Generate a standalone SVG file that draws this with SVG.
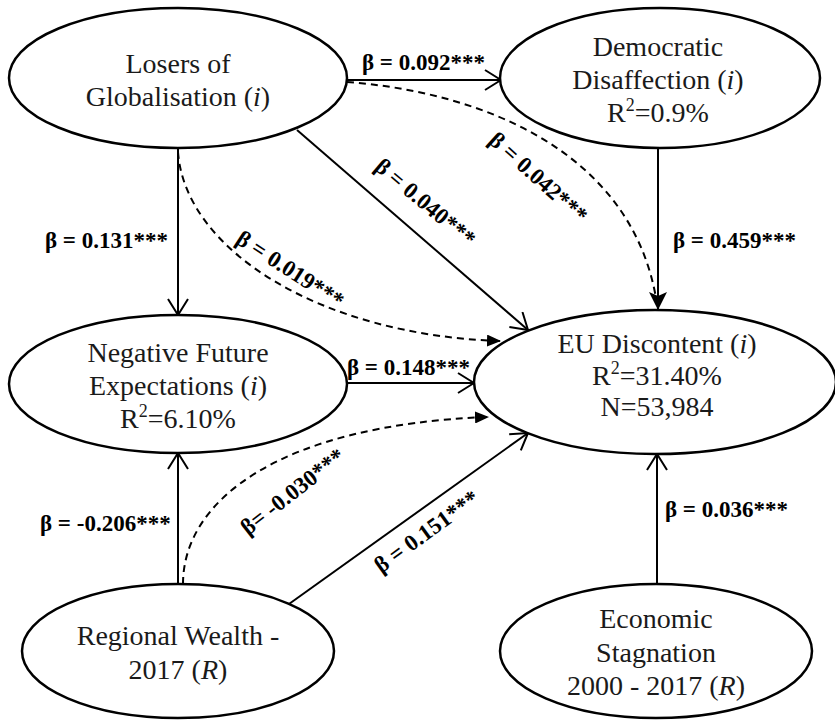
<svg xmlns="http://www.w3.org/2000/svg" width="835" height="720" viewBox="0 0 835 720">
<style>
.node ellipse{fill:#fff;stroke:#000;stroke-width:2.5}
.nt{font-family:"Liberation Serif","Times New Roman",serif;font-size:28px;fill:#1a1a1a;text-anchor:middle}
.lb{font-family:"Liberation Serif","Times New Roman",serif;font-size:23px;font-weight:bold;fill:#000}
.edge{fill:none;stroke:#000;stroke-width:2}
.dash{fill:none;stroke:#000;stroke-width:2;stroke-dasharray:7 5}
</style>
<defs>
<marker id="open" viewBox="0 0 18 22" refX="17" refY="11" markerWidth="18" markerHeight="22" markerUnits="userSpaceOnUse" orient="auto"><path d="M1,1 L17,11 L1,21" fill="none" stroke="#000" stroke-width="2"/></marker>
<marker id="fill" viewBox="0 0 18 18" refX="17" refY="9" markerWidth="18" markerHeight="18" markerUnits="userSpaceOnUse" orient="auto"><path d="M0,0 L18,9 L0,18 L4,9 Z" fill="#000"/></marker>
<marker id="small" viewBox="0 0 14 12" refX="13" refY="6" markerWidth="14" markerHeight="12" markerUnits="userSpaceOnUse" orient="auto"><path d="M0,0 L14,6 L0,12 Z" fill="#000"/></marker>
</defs>
<rect width="835" height="720" fill="#fff"/>
<g id="connectors">
<path class="edge" d="M347,80 L501,80" marker-end="url(#open)"/>
<path class="dash" d="M347,82 C480,92 630,150 656,298"/>
<path class="edge" d="M297,130 L528,330" marker-end="url(#open)"/>
<path class="edge" d="M178,148 L178,315" marker-end="url(#open)"/>
<path class="dash" d="M178,152 C185,250 320,335 500,341" marker-end="url(#small)"/>
<path class="edge" d="M658,148 L658,309" marker-end="url(#fill)"/>
<path class="edge" d="M347,383 L474,383" marker-end="url(#open)"/>
<path class="edge" d="M178,584 L178,453" marker-end="url(#open)"/>
<path class="dash" d="M183,584 C183,500 280,425 488,417" marker-end="url(#small)"/>
<path class="edge" d="M289,604 L528,433" marker-end="url(#open)"/>
<path class="edge" d="M657,584 L657,454" marker-end="url(#open)"/>
<text class="lb" x="362" y="70">β = 0.092***</text>
<text class="lb" transform="translate(538,178) rotate(42)" text-anchor="middle" dy="7">β = 0.042***</text>
<text class="lb" transform="translate(425,203) rotate(40)" text-anchor="middle" dy="7">β = 0.040***</text>
<text class="lb" x="45" y="248">β = 0.131***</text>
<text class="lb" transform="translate(290,270) rotate(33)" text-anchor="middle" dy="7">β = 0.019***</text>
<text class="lb" x="673" y="248">β = 0.459***</text>
<text class="lb" x="347" y="375">β = 0.148***</text>
<text class="lb" x="40" y="531">β = -0.206***</text>
<text class="lb" transform="translate(293,492) rotate(-38)" text-anchor="middle" dy="7">β= -0.030***</text>
<text class="lb" transform="translate(427,532) rotate(-36)" text-anchor="middle" dy="7">β = 0.151***</text>
<text class="lb" x="665" y="517">β = 0.036***</text>
</g>
<g id="losers" class="node">
<ellipse cx="178" cy="78" rx="169" ry="70"/>
<text class="nt" x="178" y="73">Losers of</text>
<text class="nt" x="178" y="106">Globalisation (<tspan font-style="italic">i</tspan>)</text>
</g>
<g id="democratic" class="node">
<ellipse cx="660" cy="78" rx="160" ry="70"/>
<text class="nt" x="658" y="56">Democratic</text>
<text class="nt" x="658" y="89">Disaffection (<tspan font-style="italic">i</tspan>)</text>
<text class="nt" x="658" y="122">R<tspan font-size="18" dy="-11">2</tspan><tspan dy="11">=0.9%</tspan></text>
</g>
<g id="negative" class="node">
<ellipse cx="178" cy="384" rx="169" ry="69"/>
<text class="nt" x="178" y="362">Negative Future</text>
<text class="nt" x="178" y="395">Expectations (<tspan font-style="italic">i</tspan>)</text>
<text class="nt" x="178" y="428">R<tspan font-size="18" dy="-11">2</tspan><tspan dy="11">=6.10%</tspan></text>
</g>
<g id="eu" class="node">
<ellipse cx="655" cy="382" rx="181" ry="72"/>
<text class="nt" x="657" y="353">EU Discontent (<tspan font-style="italic">i</tspan>)</text>
<text class="nt" x="657" y="385">R<tspan font-size="18" dy="-11">2</tspan><tspan dy="11">=31.40%</tspan></text>
<text class="nt" x="657" y="416">N=53,984</text>
</g>
<g id="regional" class="node">
<ellipse cx="178" cy="651" rx="156" ry="67"/>
<text class="nt" x="178" y="645">Regional Wealth -</text>
<text class="nt" x="178" y="679">2017 (<tspan font-style="italic">R</tspan>)</text>
</g>
<g id="economic" class="node">
<ellipse cx="656" cy="651" rx="156" ry="67"/>
<text class="nt" x="656" y="628">Economic</text>
<text class="nt" x="656" y="662">Stagnation</text>
<text class="nt" x="656" y="695">2000 - 2017 (<tspan font-style="italic">R</tspan>)</text>
</g>
</svg>
